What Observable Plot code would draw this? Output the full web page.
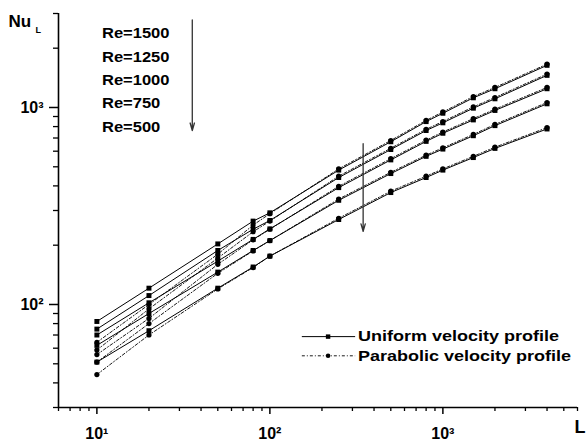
<!DOCTYPE html>
<html><head><meta charset="utf-8">
<script src="https://cdn.jsdelivr.net/npm/d3@7"></script>
<script src="https://cdn.jsdelivr.net/npm/@observablehq/plot@0.6"></script>
<style>
html,body{margin:0;padding:0;background:#fff;}
#chart svg{display:block;}
</style></head><body><div id="chart"></div>
<script>
// ---- data ----
const L = [10, 20, 50, 80, 100, 250, 500, 800, 1000, 1500, 2000, 4000];
const Re = [1500, 1250, 1000, 750, 500];

const uni1500 = [82, 121, 203, 265, 292, 481, 670, 848, 935, 1120, 1245, 1637];
const uni1250 = [75, 111, 188, 241, 267, 441, 612, 764, 836, 992, 1107, 1456];
const uni1000 = [70, 102, 166, 214, 242, 392, 542, 673, 740, 865, 966, 1245];
const uni750  = [62, 90, 146, 188, 211, 338, 462, 565, 615, 719, 809, 1044];
const uni500  = [51, 73.6, 121, 155, 176, 270, 370, 441, 481, 557, 620, 778];

const par1500 = [64.3, 100, 180, 253, 289, 488, 680, 860, 949, 1137, 1264, 1660];
const par1250 = [58.7, 95, 172, 234, 265, 448, 621, 775, 849, 1007, 1124, 1478];
const par1000 = [55.7, 85, 160, 213, 241, 398, 550, 683, 751, 878, 980, 1264];
const par750  = [51, 80, 144, 187, 211, 343, 469, 573, 624, 730, 821, 1060];
const par500  = [44.1, 70, 120, 154, 176, 274, 376, 448, 488, 565, 629, 790];

const reLabels = ["Re=1500", "Re=1250", "Re=1000", "Re=750", "Re=500"];
const legendLabels = ["Uniform velocity profile", "Parabolic velocity profile"];

const xDomain = [6, 6000];
const yDomain = [30, 3000];
const xMajor = [10, 100, 1000];
const xMinor = [6, 7, 8, 9, 20, 30, 40, 50, 60, 70, 80, 90, 200, 300, 400, 500, 600, 700, 800, 900, 2000, 3000, 4000, 5000, 6000];
const yMajor = [100, 1000];
const yMinor = [30, 40, 50, 60, 70, 80, 90, 200, 300, 400, 500, 600, 700, 800, 900, 2000, 3000];

// annotation anchors (in data coordinates)
const reLabelX = 10.7;
const reLabelY = [2385, 1799, 1374, 1042, 791];
const arrows = [{x: 35.6, y1: 2780, y2: 764}, {x: 346, y1: 655, y2: 235}];
const legendX = {x1: 153, x2: 311, xm: 217, xt: 323};
const legendY = [68.7, 54.9];

// ---- build tables ----
const uniform = [uni1500, uni1250, uni1000, uni750, uni500];
const parabolic = [par1500, par1250, par1000, par750, par500];
const uniRows = [], parRows = [];
Re.forEach((re, i) => L.forEach((l, j) => {
  uniRows.push({Re: re, L: l, Nu: uniform[i][j]});
  parRows.push({Re: re, L: l, Nu: parabolic[i][j]});
}));
const reRows = reLabels.map((t, i) => ({t, x: reLabelX, y: reLabelY[i]}));
const legRows = legendLabels.map((t, i) => ({t, ...legendX, y: legendY[i]}));

const sup = {1: "\u00b9", 2: "\u00b2", 3: "\u00b3"};
const fmt = d => "10" + sup[Math.round(Math.log10(d))];
const FONT = "'Liberation Sans', Arial, Helvetica, sans-serif";
const hasAxisMarks = typeof Plot.axisX === "function";

const axisMarks = hasAxisMarks ? [
  Plot.axisX(xMajor, {tickSize: 7, tickPadding: 13, tickFormat: fmt, fontSize: 16, fontWeight: "bold", strokeWidth: 1.5, label: null}),
  Plot.axisX(xMinor, {tickSize: 4, tickFormat: () => "", strokeWidth: 1.3, label: null}),
  Plot.axisY(yMajor, {tickSize: 9, tickPadding: 6, tickFormat: fmt, fontSize: 16, fontWeight: "bold", strokeWidth: 1.5, label: null}),
  Plot.axisY(yMinor, {tickSize: 5, tickFormat: () => "", strokeWidth: 1.3, label: null})
] : [];

const chart = Plot.plot({
  width: 588, height: 443,
  marginLeft: 58, marginRight: 11, marginTop: 13, marginBottom: 36,
  style: {fontFamily: FONT, fontWeight: "bold", background: "#fff", color: "#000", overflow: "visible"},
  x: hasAxisMarks ? {type: "log", domain: xDomain, label: null}
                  : {type: "log", domain: xDomain, ticks: xMajor, tickFormat: fmt, tickSize: 7, tickPadding: 13, label: null},
  y: hasAxisMarks ? {type: "log", domain: yDomain, label: null}
                  : {type: "log", domain: yDomain, ticks: yMajor, tickFormat: fmt, tickSize: 9, tickPadding: 6, label: null},
  marks: [
    ...axisMarks,
    Plot.ruleX([xDomain[0]], {stroke: "#000", strokeWidth: 1.6}),
    Plot.ruleY([yDomain[0]], {stroke: "#000", strokeWidth: 1.6}),
    // series
    Plot.line(parRows, {x: "L", y: "Nu", z: "Re", stroke: "#000", strokeWidth: 0.9, strokeDasharray: "3,2,1,2"}),
    Plot.line(uniRows, {x: "L", y: "Nu", z: "Re", stroke: "#000", strokeWidth: 1}),
    Plot.dot(uniRows, {x: "L", y: "Nu", symbol: "square", r: 2.8, fill: "#000", stroke: null}),
    Plot.dot(parRows, {x: "L", y: "Nu", symbol: "circle", r: 2.6, fill: "#000", stroke: null}),
    // annotations
    Plot.text(reRows, {x: "x", y: "y", text: "t", textAnchor: "start", fontSize: 14, fontWeight: "bold", fill: "#000"}),
    Plot.arrow(arrows, {x1: "x", x2: "x", y1: "y1", y2: "y2", stroke: "#333", strokeWidth: 1.3, headLength: 9, headAngle: 32}),
    // legend
    Plot.link(legRows.slice(0, 1), {x1: "x1", x2: "x2", y1: "y", y2: "y", stroke: "#000", strokeWidth: 1}),
    Plot.link(legRows.slice(1), {x1: "x1", x2: "x2", y1: "y", y2: "y", stroke: "#000", strokeWidth: 0.9, strokeDasharray: "3,2,1,2"}),
    Plot.dot(legRows.slice(0, 1), {x: "xm", y: "y", symbol: "square", r: 2.5, fill: "#000", stroke: null}),
    Plot.dot(legRows.slice(1), {x: "xm", y: "y", symbol: "circle", r: 2.3, fill: "#000", stroke: null}),
    Plot.text(legRows, {x: "xt", y: "y", text: "t", textAnchor: "start", fontSize: 15, fontWeight: "bold", fill: "#000"}),
    // axis titles
    Plot.text(["Nu"], {frameAnchor: "top-left", dx: -50, dy: 1, textAnchor: "start", lineAnchor: "top", fontSize: 17, fontWeight: "bold", fill: "#000"}),
    Plot.text(["L"], {frameAnchor: "top-left", dx: -23, dy: 13, textAnchor: "start", lineAnchor: "top", fontSize: 9, fontWeight: "bold", fill: "#000"}),
    Plot.text(["L"], {frameAnchor: "bottom-right", dx: -3, dy: 13, textAnchor: "start", lineAnchor: "top", fontSize: 18, fontWeight: "bold", fill: "#000"})
  ]
});
document.getElementById("chart").append(chart);

// horizontal stretch of the annotation fonts, as in the reference
function stretch(t, f) {
  const w = t.getComputedTextLength();
  t.setAttribute("textLength", (w * f).toFixed(1));
  t.setAttribute("lengthAdjust", "spacingAndGlyphs");
}
d3.select(chart).selectAll("text").each(function () {
  const s = this.textContent;
  if (s.startsWith("Re=")) stretch(this, 1.18);
  else if (s.endsWith("profile")) stretch(this, 1.2);
});
</script>
</body></html>
